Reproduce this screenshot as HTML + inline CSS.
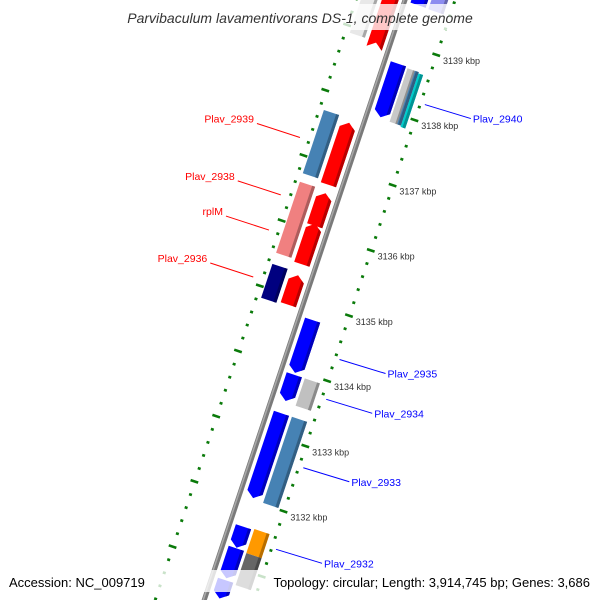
<!DOCTYPE html>
<html><head><meta charset="utf-8"><style>
html,body{margin:0;background:#fff;width:600px;height:600px;overflow:hidden}
svg{display:block;font-family:"Liberation Sans",sans-serif;overflow:hidden}
</style></head><body>
<svg id="map" width="600" height="600" viewBox="0 0 600 600" xmlns="http://www.w3.org/2000/svg">
<g id="ticks"></g>
<g id="genes"></g>
<g id="bb"></g>
<g id="labels"></g>
<rect x="105" y="4" width="390" height="26" fill="rgba(255,255,255,0.78)"/>
<text x="300" y="23" text-anchor="middle" font-size="14" font-style="italic" fill="#333">Parvibaculum lavamentivorans DS-1, complete genome</text>
<rect x="0" y="570" width="600" height="22" fill="rgba(255,255,255,0.78)"/>
<text x="9" y="587" font-size="13" fill="#000">Accession: NC_009719</text>
<text x="590" y="587" text-anchor="end" font-size="13" fill="#000">Topology: circular; Length: 3,914,745 bp; Genes: 3,686</text>
</svg>
<script>
// data
const geneStart = [3139.6,3139.6,3140.2,3140.2,3137.88,3137.86,3137.86,3137.84,3136.75,3136.71,3135.53,3136.08,3135.49,3134.84,3134.87,3133.96,3133.53,3133.51,3132.04,3132.02,3131.28,3131.25,3130.76,3130.81,3130.5];
const geneEnd   = [3138.89,3138.905,3139.6,3139.59,3138.70,3138.68,3138.68,3138.66,3137.72,3137.66,3136.62,3136.58,3136.11,3135.36,3135.32,3134.77,3133.93,3133.93,3133.34,3133.34,3131.60,3131.62,3131.25,3131.27,3130.78];
const geneTrack = ['r','ol','b','or','b','or1','or2','or3','ol','r','ol','r','r','ol','r','b','b','or','b','or','b','or','or','b','b'];
const geneColor = ['#ff0000','#e8e8e8','#0000ff','#8c8cf0','#0000ff','#c8c8c8','#4682b4','#00cccc','#4682b4','#ff0000','#f08080','#ff0000','#ff0000','#000080','#ff0000','#0000ff','#0000ff','#c0c0c0','#0000ff','#4682b4','#0000ff','#ff9900','#666666','#0000ff','#0000ff'];
const tickKbp = [3139,3138,3137,3136,3135,3134,3133,3132];
const tickLabels = ['3139 kbp','3138 kbp','3137 kbp','3136 kbp','3135 kbp','3134 kbp','3133 kbp','3132 kbp'];
const leftLabels = ['Plav_2939','Plav_2938','rplM','Plav_2936'];
const leftLabelKbp = [3137.23,3136.35,3135.81,3135.09];
const rightLabels = ['Plav_2940','Plav_2935','Plav_2934','Plav_2933','Plav_2932'];
const rightLabelKbp = [3138.26,3134.35,3133.74,3132.69,3131.44];

const NS='http://www.w3.org/2000/svg';
const A=18.5*Math.PI/180, C=Math.cos(A), S=Math.sin(A);
function P(lx,ly){return [405+lx*C-ly*S, lx*S+ly*C];}
function L(k){return 42+(3139-k)*68.76;}
function el(t,a,parent){const e=document.createElementNS(NS,t);for(const k in a)e.setAttribute(k,a[k]);parent.appendChild(e);return e;}
function pts(arr){return arr.map(p=>P(p[0],p[1]).map(v=>v.toFixed(1)).join(',')).join(' ');}
function shade(c,f){const n=parseInt(c.slice(1),16);let r=(n>>16)&255,g=(n>>8)&255,b=n&255;return 'rgb('+Math.round(r*f)+','+Math.round(g*f)+','+Math.round(b*f)+')';}
const tracks={r:[-22,-6],ol:[-42,-26],b:[6,22],or:[25,41],or1:[24,33],or2:[32,36],or3:[36,41]};

// ticks
const tg=document.getElementById('ticks');
for(let k=3130.2;k<=3140.4;k+=0.2){
  const ly=L(k); const major=Math.abs(k-Math.round(k))<0.01;
  const seg=major?[[43,51],[-51,-43]]:[[46,49],[-48,-45]];
  seg.forEach(s=>{const a=P(s[0],ly),b=P(s[1],ly);
    const t=el('line',{x1:a[0],y1:a[1],x2:b[0],y2:b[1],stroke:'#0a7a0a','stroke-width':2.6},tg);
    
    });
}
tickKbp.forEach((k,i)=>{const p=P(51,L(k));
  const t=el('text',{x:p[0]+3,y:p[1]+8,'font-size':9,fill:'#333'},tg);t.textContent=tickLabels[i];
  
  });

// backbone
const bb=document.getElementById('bb');
const b1=P(0,-60),b2=P(0,660);
el('line',{x1:b1[0],y1:b1[1],x2:b2[0],y2:b2[1],stroke:'#7a7a7a','stroke-width':5},bb);
const c1=P(-1,-60),c2=P(-1,660);
el('line',{x1:c1[0],y1:c1[1],x2:c2[0],y2:c2[1],stroke:'#a8a8a8','stroke-width':1.5},bb);

// genes
const gg=document.getElementById('genes');
geneStart.forEach((s,i)=>{
  const tr=tracks[geneTrack[i]]; const a=L(s), b=L(geneEnd[i]);
  const x0=tr[0],x1=tr[1],m=(x0+x1)/2; let poly;
  const h=Math.min(6,Math.abs(a-b)/2);
  if(geneTrack[i]==='r') poly=[[x0,a],[x1,a],[x1,b+h],[m,b],[x0,b+h]];
  else if(geneTrack[i]==='b') poly=[[x0,b],[x1,b],[x1,a-h],[m,a],[x0,a-h]];
  else poly=[[x0,a],[x1,a],[x1,b],[x0,b]];
  const g=el('polygon',{points:pts(poly),fill:geneColor[i]},gg);
  
  
  const w=3; let sp;
  if(geneTrack[i]==='r') sp=[[x1-w,a],[x1,a],[x1,b+h],[x1-w,b+h*(1-w/(x1-m))]];
  else if(geneTrack[i]==='b') sp=[[x1-w,b],[x1,b],[x1,a-h],[x1-w,a-h*(1-w/(x1-m))]];
  else sp=[[x1-w,a],[x1,a],[x1,b],[x1-w,b]];
  el('polygon',{points:pts(sp),fill:shade(geneColor[i],0.72)},gg);
});

// labels
const lg=document.getElementById('labels');
leftLabels.forEach((t,i)=>{const ly=L(leftLabelKbp[i]);const a=P(-56,ly);const b=[a[0]-43,a[1]-14];
  el('line',{x1:a[0],y1:a[1],x2:b[0],y2:b[1],stroke:'#ff0000','stroke-width':1},lg);
  const tx=el('text',{x:b[0]-3,y:b[1]-1,'font-size':10.5,fill:'#ff0000','text-anchor':'end'},lg);tx.textContent=t;
  
  });
rightLabels.forEach((t,i)=>{const ly=L(rightLabelKbp[i]);const a=P(52,ly);const b=[a[0]+46,a[1]+14];
  el('line',{x1:a[0],y1:a[1],x2:b[0],y2:b[1],stroke:'#0000ff','stroke-width':1},lg);
  const tx=el('text',{x:b[0]+2,y:b[1]+4,'font-size':10.5,fill:'#0000ff'},lg);tx.textContent=t;
  
  });
</script>
</body></html>
